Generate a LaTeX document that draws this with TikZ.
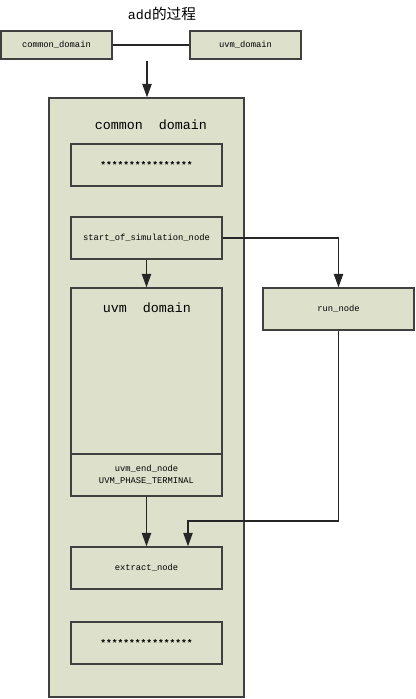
\documentclass[tikz,border=0pt]{standalone}
\usepackage{fontspec}
\setmainfont{Liberation Serif}
\setmonofont{Liberation Mono}
\newfontfamily\cjk{Noto Sans CJK SC}
\usetikzlibrary{arrows.meta}
\definecolor{boxfill}{HTML}{DDE0CB}
\definecolor{boxline}{HTML}{404040}
\tikzset{
  box/.style={draw=boxline, fill=boxfill, line width=1.1pt, inner sep=0pt,
    font=\ttfamily\fontsize{6.6}{9}\selectfont, align=center},
  wh/.style 2 args={minimum width=#1*0.75pt, minimum height=#2*0.75pt},
  ttl/.style={font=\ttfamily\fontsize{10}{12}\selectfont, inner sep=0pt},
  conn/.style={draw=black!85, line width=0.9pt},
  arr/.style={conn, -{Triangle[length=10pt,width=7pt]}}
}
\newcommand{\starline}{\raisebox{-0.25em}{\fontsize{7.2}{9}\selectfont\bfseries ****************}}
\begin{document}
\begin{tikzpicture}[x=0.75pt,y=-0.75pt]
\useasboundingbox (0,0) rectangle (415,699);
\node[inner sep=0pt] (title) at (162,14) {\ttfamily\fontsize{10}{12}\selectfont add\cjk\fontsize{11}{13}\selectfont 的过程};
\node[box, wh={111}{28}] (cd) at (56.5,45) {common\_domain};
\node[box, wh={111}{28}] (ud) at (245.5,45) {uvm\_domain};
\draw[conn] (cd.east) -- (ud.west);
\node[box, wh={195}{599}] (big) at (146.5,397.5) {};
\node[ttl] (bigt) at (151,125) {common\ \ domain};
\node[box, wh={151}{42}] (s1) at (146.5,165) {\starline};
\node[box, wh={151}{42}] (sos) at (146.5,238) {start\_of\_simulation\_node};
\node[box, wh={151}{208}] (uvm) at (146.5,392) {};
\node[ttl] (uvmt) at (147,308) {uvm\ \ domain};
\node[box, wh={151}{42}] (uend) at (146.5,475) {uvm\_end\_node\\UVM\_PHASE\_TERMINAL};
\node[box, wh={151}{42}] (ext) at (146.5,568) {extract\_node};
\node[box, wh={151}{42}] (s2) at (146.5,643) {\starline};
\node[box, wh={151}{42}] (run) at (338.5,309) {run\_node};
\coordinate (a0) at (147,61);
\coordinate (bend) at (188,521);
\draw[arr] (a0) -- (a0 |- big.north);
\draw[arr] (sos.south) -- (uvm.north);
\draw[arr] (sos.east) -| (run.north);
\draw[arr] (uend.south) -- (ext.north);
\draw[arr] (run.south) |- (bend) -- (bend |- ext.north);
\end{tikzpicture}
\end{document}
